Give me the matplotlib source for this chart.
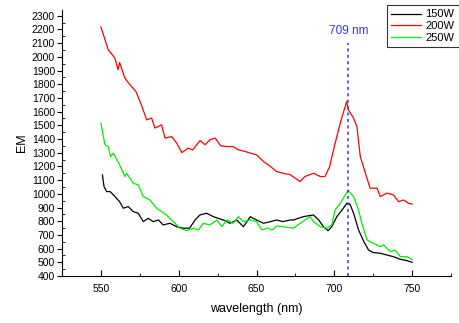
import matplotlib
matplotlib.use("Agg")
import matplotlib.pyplot as plt
from matplotlib.ticker import MultipleLocator

plt.rcParams['font.family'] = ['Liberation Sans', 'DejaVu Sans']

# 150W (black)
wl_150 = [551, 552, 553.7, 556, 559, 562, 564.4, 567.6, 570.8, 574, 577.2, 580.4, 583.6, 587, 590,
          594.4, 598.7, 603, 607, 610.5, 613.7, 618, 622.3, 625.5, 628.7, 633, 637.3, 641.6, 646, 650,
          654.6, 659, 663, 667, 671.6, 673.8, 680, 686.6, 690, 693, 696, 698.4, 701.6, 705, 708, 710,
          712.4, 715.6, 719, 722, 725, 729.5, 733.8, 738, 742.4, 746.7, 750]
em_150 = [1138, 1053, 1016, 1016, 980, 943, 895, 907, 870, 858, 797, 821, 797, 809, 773,
          785, 760, 749, 749, 809, 846, 858, 833, 821, 809, 785, 809, 760, 833, 809,
          785, 797, 809, 797, 809, 809, 833, 846, 809, 760, 731, 760, 833, 882, 931, 926,
          858, 736, 651, 590, 571, 566, 553, 541, 522, 512, 500]

# 200W (red)
wl_200 = [550, 554.7, 559, 561, 562, 565.4, 568.7, 572.5, 576, 579.4, 582.6, 584.7, 589, 591.2, 595.5,
          598.7, 602, 606, 609, 613.7, 617, 620, 623.4, 627, 631, 635, 638.3, 642.7, 646, 650,
          654.6, 659, 663, 667, 671.6, 678, 681, 686.6, 691, 694, 697, 699.5, 702.7, 705, 707, 708,
          709, 712.4, 714.5, 716.7, 720, 723, 727.5, 729.5, 733.8, 738, 741.3, 744.5, 747.7, 750]
em_200 = [2218, 2052, 1991, 1906, 1959, 1845, 1796, 1747, 1650, 1540, 1553, 1480, 1504, 1407, 1418,
          1370, 1301, 1333, 1321, 1389, 1358, 1394, 1407, 1350, 1345, 1345, 1321, 1309, 1297, 1285,
          1235, 1199, 1162, 1150, 1140, 1089, 1126, 1150, 1126, 1126, 1199, 1321, 1467, 1564, 1637, 1674,
          1613, 1553, 1491, 1272, 1150, 1041, 1041, 980, 1005, 992, 943, 955, 931, 925]

# 250W (green)
wl_250 = [550, 552.6, 554.7, 556.2, 558, 562, 565.4, 566.5, 570.8, 574, 577.2, 581.5, 585.8, 589, 592,
          596.5, 600.8, 605, 609.4, 612.6, 615.8, 620, 624.5, 627.7, 631, 635, 638.3, 641.6, 646, 650,
          653.4, 656.6, 660, 663, 667, 673.8, 678, 684.5, 686.6, 691, 695, 698.4, 700.5, 703.8, 707, 709,
          712.4, 715.6, 717.7, 721, 725, 729.5, 731.7, 736, 739, 742.4, 746.7, 748.8, 750]
em_250 = [1516, 1358, 1345, 1272, 1297, 1211, 1126, 1150, 1077, 1065, 980, 955, 895, 870, 846,
          797, 749, 731, 749, 736, 785, 773, 809, 760, 809, 785, 833, 797, 809, 797,
          736, 749, 736, 765, 760, 749, 785, 833, 797, 760, 749, 773, 882, 931, 992, 1023,
          980, 882, 785, 663, 639, 614, 627, 578, 590, 541, 541, 529, 517]

series_labels = ['150W', '200W', '250W']
peak_wl = 709
x_ticks = [550, 600, 650, 700, 750]

fig = plt.figure(figsize=(4.6, 3.23), dpi=100)
ax = fig.add_axes([62/460, 47/323, 389/460, 266/323])

l1, = ax.plot(wl_150, em_150, color='black', lw=0.9, label=series_labels[0])
l2, = ax.plot(wl_200, em_200, color='#ff0000', lw=0.9, label=series_labels[1])
l3, = ax.plot(wl_250, em_250, color='#00ee00', lw=0.9, label=series_labels[2])

ax.plot([peak_wl, peak_wl], [400, 2100], color='#3333ff', lw=1.1, linestyle=(0, (2, 2.2)))
ax.text(peak_wl, 2192, '709 nm', color='#3333ff', ha='center', va='center', fontsize=8.5)

ax.set_xlim(525, 775)
ax.set_ylim(400, 2342)
ax.set_xticks(x_ticks)
ax.xaxis.set_minor_locator(MultipleLocator(25))
ax.yaxis.set_major_locator(MultipleLocator(100))
ax.yaxis.set_minor_locator(MultipleLocator(50))
ax.spines['top'].set_visible(False)
ax.spines['right'].set_visible(False)
ax.tick_params(axis='x', which='major', direction='in', length=4, labelsize=7.5, pad=6)
ax.tick_params(axis='x', which='minor', direction='in', length=2.5)
ax.tick_params(axis='y', which='major', direction='out', length=3.5, labelsize=7.5, pad=1.5)
ax.tick_params(axis='y', which='minor', direction='in', length=2.5)
ax.set_xlabel('wavelength (nm)', fontsize=9, labelpad=6)
ax.set_ylabel('EM', fontsize=9, labelpad=3)

leg = fig.legend(handles=[l1, l2, l3], loc='upper right',
                 bbox_to_anchor=(459/460, 1 - 5/323), fontsize=8, frameon=True,
                 fancybox=False, edgecolor='black', handlelength=2.7,
                 borderpad=0.4, labelspacing=0.15, handletextpad=0.4, borderaxespad=0)
leg.get_frame().set_linewidth(0.8)

fig.savefig('out.png', dpi=100)
